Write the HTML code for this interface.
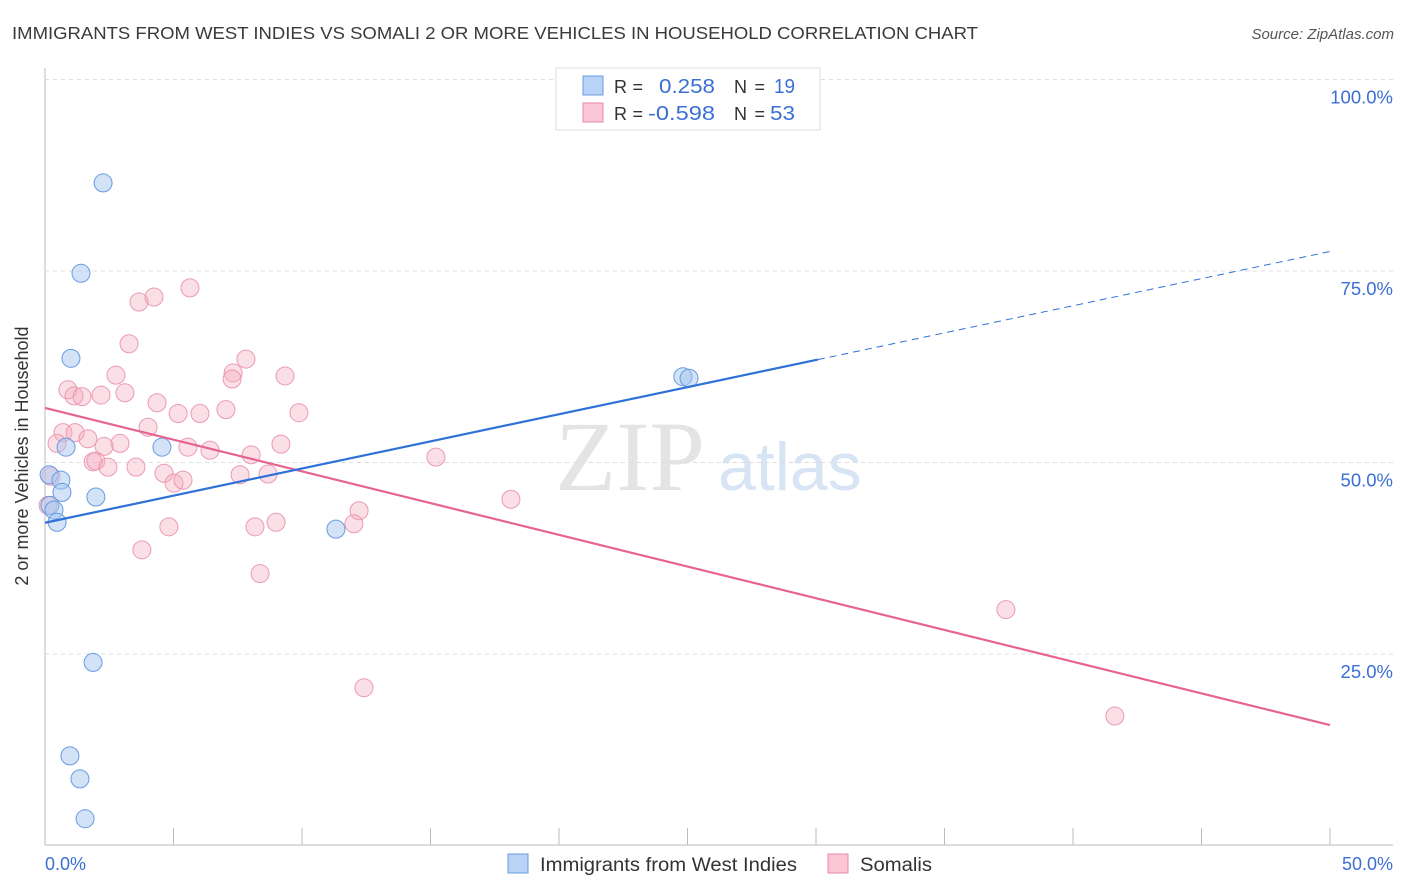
<!DOCTYPE html>
<html><head><meta charset="utf-8"><style>
body{margin:0;background:#fff;font-family:"Liberation Sans",sans-serif;}
#wrap{position:relative;width:1406px;height:892px;overflow:hidden;}
</style></head><body>
<div id="wrap">
<svg id="svg" width="1406" height="892" xmlns="http://www.w3.org/2000/svg">
<text x="12" y="39" font-size="17.5" fill="#3a3a3a" textLength="966" lengthAdjust="spacingAndGlyphs">IMMIGRANTS FROM WEST INDIES VS SOMALI 2 OR MORE VEHICLES IN HOUSEHOLD CORRELATION CHART</text>
<text x="1394" y="39" font-size="15" fill="#555" font-style="italic" text-anchor="end">Source: ZipAtlas.com</text>
<text x="555" y="490" font-size="100" fill="#e4e4e4" font-family="Liberation Serif,serif">ZIP</text>
<text x="718" y="490" font-size="68" fill="#d6e4f4">atlas</text>
<g id="grid"></g>
<g id="marks"></g>
<g>
<rect x="556" y="68" width="264" height="62" fill="#fff" stroke="#ddd"/>
<rect x="583" y="76" width="20" height="19" fill="#b8d3f5" stroke="#6a9be0"/>
<rect x="583" y="103" width="20" height="19" fill="#fac6d5" stroke="#e88aa6"/>
<text x="614" y="93" font-size="18" fill="#333" textLength="29">R =</text><text x="659" y="93" font-size="20" fill="#3b6fd4" textLength="56" lengthAdjust="spacingAndGlyphs">0.258</text>
<text x="734" y="93" font-size="18" fill="#333" textLength="31">N =</text><text x="774" y="93" font-size="20" fill="#3b6fd4" textLength="21" lengthAdjust="spacingAndGlyphs">19</text>
<text x="614" y="120" font-size="18" fill="#333" textLength="29">R =</text><text x="648" y="120" font-size="20" fill="#3b6fd4" textLength="67" lengthAdjust="spacingAndGlyphs">-0.598</text>
<text x="734" y="120" font-size="18" fill="#333" textLength="31">N =</text><text x="770" y="120" font-size="20" fill="#3b6fd4" textLength="25" lengthAdjust="spacingAndGlyphs">53</text>
</g>
<text x="28" y="456" font-size="18" fill="#333" transform="rotate(-90 28 456)" text-anchor="middle">2 or more Vehicles in Household</text>
<text x="45" y="870" font-size="18" fill="#3b6fd4">0.0%</text>
<text x="1393" y="870" font-size="18" fill="#3b6fd4" text-anchor="end">50.0%</text>
<g><rect x="508" y="854" width="20" height="19" fill="#b8d3f5" stroke="#6a9be0"/><text x="540" y="871" font-size="19" fill="#333" textLength="257" lengthAdjust="spacingAndGlyphs">Immigrants from West Indies</text></g>
<g><rect x="828" y="854" width="20" height="19" fill="#fac6d5" stroke="#e88aa6"/><text x="860" y="871" font-size="19" fill="#333" textLength="72" lengthAdjust="spacingAndGlyphs">Somalis</text></g>
</svg>
</div>
<script>
const yTicks=[25,50,75,100];
const yTickLabels=["25.0%","50.0%","75.0%","100.0%"];
const xTicks=[5,10,15,20,25,30,35,40,45,50];
const blueX=[2.26,1.40,1.01,0.82,4.55,0.16,0.62,0.66,1.98,0.19,0.35,0.47,11.32,24.82,25.06,1.87,0.97,1.36,1.56];
const blueY=[86.5,74.7,63.6,52.0,52.0,48.4,47.7,46.1,45.5,44.4,43.8,42.2,41.3,61.2,61.0,23.9,11.7,8.7,3.5];
const pinkX=[3.66,4.24,5.64,3.27,7.82,7.32,7.28,9.34,0.89,1.13,1.44,2.18,3.11,2.76,4.36,5.18,6.03,9.88,7.04,4.01,0.70,1.17,1.67,2.92,2.30,0.47,5.56,6.42,8.02,9.18,15.21,1.87,1.98,2.45,3.54,4.63,5.02,5.37,7.59,8.68,0.23,0.12,18.13,4.82,3.77,8.17,8.99,12.22,12.02,8.37,12.41,37.39,41.63];
const pinkY=[70.95,71.6,72.8,65.5,63.5,61.7,60.9,61.3,59.5,58.7,58.6,58.8,59.1,61.4,57.8,56.4,56.4,56.5,56.9,54.6,53.9,53.9,53.1,52.5,52.1,52.5,52.0,51.6,51.0,52.4,50.7,50.1,50.2,49.4,49.4,48.6,47.3,47.7,48.4,48.5,48.2,44.4,45.2,41.6,38.6,41.6,42.2,43.7,42.0,35.5,20.6,30.8,16.9];
const NS="http://www.w3.org/2000/svg";
const sx=v=>45+v*25.7, sy=v=>845.5-v*7.66;
function mk(tag,attrs,parent){const e=document.createElementNS(NS,tag);for(const k in attrs)e.setAttribute(k,attrs[k]);parent.appendChild(e);return e;}
const grid=document.getElementById('grid'), marks=document.getElementById('marks');
let ax=mk('line',{x1:45,y1:68,x2:45,y2:845,stroke:'#bbb'},grid);


let bx=mk('line',{x1:45,y1:845,x2:1393,y2:845,stroke:'#bbb'},grid);


yTicks.forEach((t,i)=>{
  const g=mk('line',{x1:45,y1:sy(t),x2:1393,y2:sy(t),stroke:'#ddd','stroke-dasharray':'4,4'},grid);
  
  
  const tx=mk('text',{x:1393,y:sy(t)+24,'font-size':18.5,fill:'#3b6fd4','text-anchor':'end'},grid);
  tx.textContent=yTickLabels[i];
  
  
});
xTicks.forEach(t=>{
  const l=mk('line',{x1:sx(t),y1:828,x2:sx(t),y2:845,stroke:'#bbb'},grid);
  
  
});
function reg(X,Y){const n=X.length;let mx=0,my=0;for(let i=0;i<n;i++){mx+=X[i];my+=Y[i];}mx/=n;my/=n;let sxy=0,sxx=0;for(let i=0;i<n;i++){sxy+=(X[i]-mx)*(Y[i]-my);sxx+=(X[i]-mx)**2;}const b=sxy/sxx;return [my-b*mx,b];}
function pts(X,Y,fill,stroke,name){X.forEach((x,i)=>{const c=mk('circle',{cx:sx(x),cy:sy(Y[i]),r:9,fill:fill,stroke:stroke,'stroke-width':1},marks);

});}
pts(pinkX,pinkY,'rgba(245,170,192,0.38)','#eb9ab2','somali-point');
pts(blueX,blueY,'rgba(165,198,240,0.5)','#6a9be0','west-indies-point');
const [pa,pb]=reg(pinkX,pinkY);
let pl=mk('line',{x1:sx(0),y1:sy(pa),x2:sx(50),y2:sy(pa+pb*50),stroke:'#e6648e','stroke-width':2.2},marks);


const [ba,bb]=reg(blueX,blueY);
const xmax=Math.max(...blueX)*1.2;
let bl=mk('line',{x1:sx(0),y1:sy(ba),x2:sx(xmax),y2:sy(ba+bb*xmax),stroke:'#2f72d6','stroke-width':2.2},marks);


let bd=mk('line',{x1:sx(xmax),y1:sy(ba+bb*xmax),x2:sx(50),y2:sy(ba+bb*50),stroke:'#2f72d6','stroke-width':1,'stroke-dasharray':'7,5'},marks);


</script>
</body></html>
